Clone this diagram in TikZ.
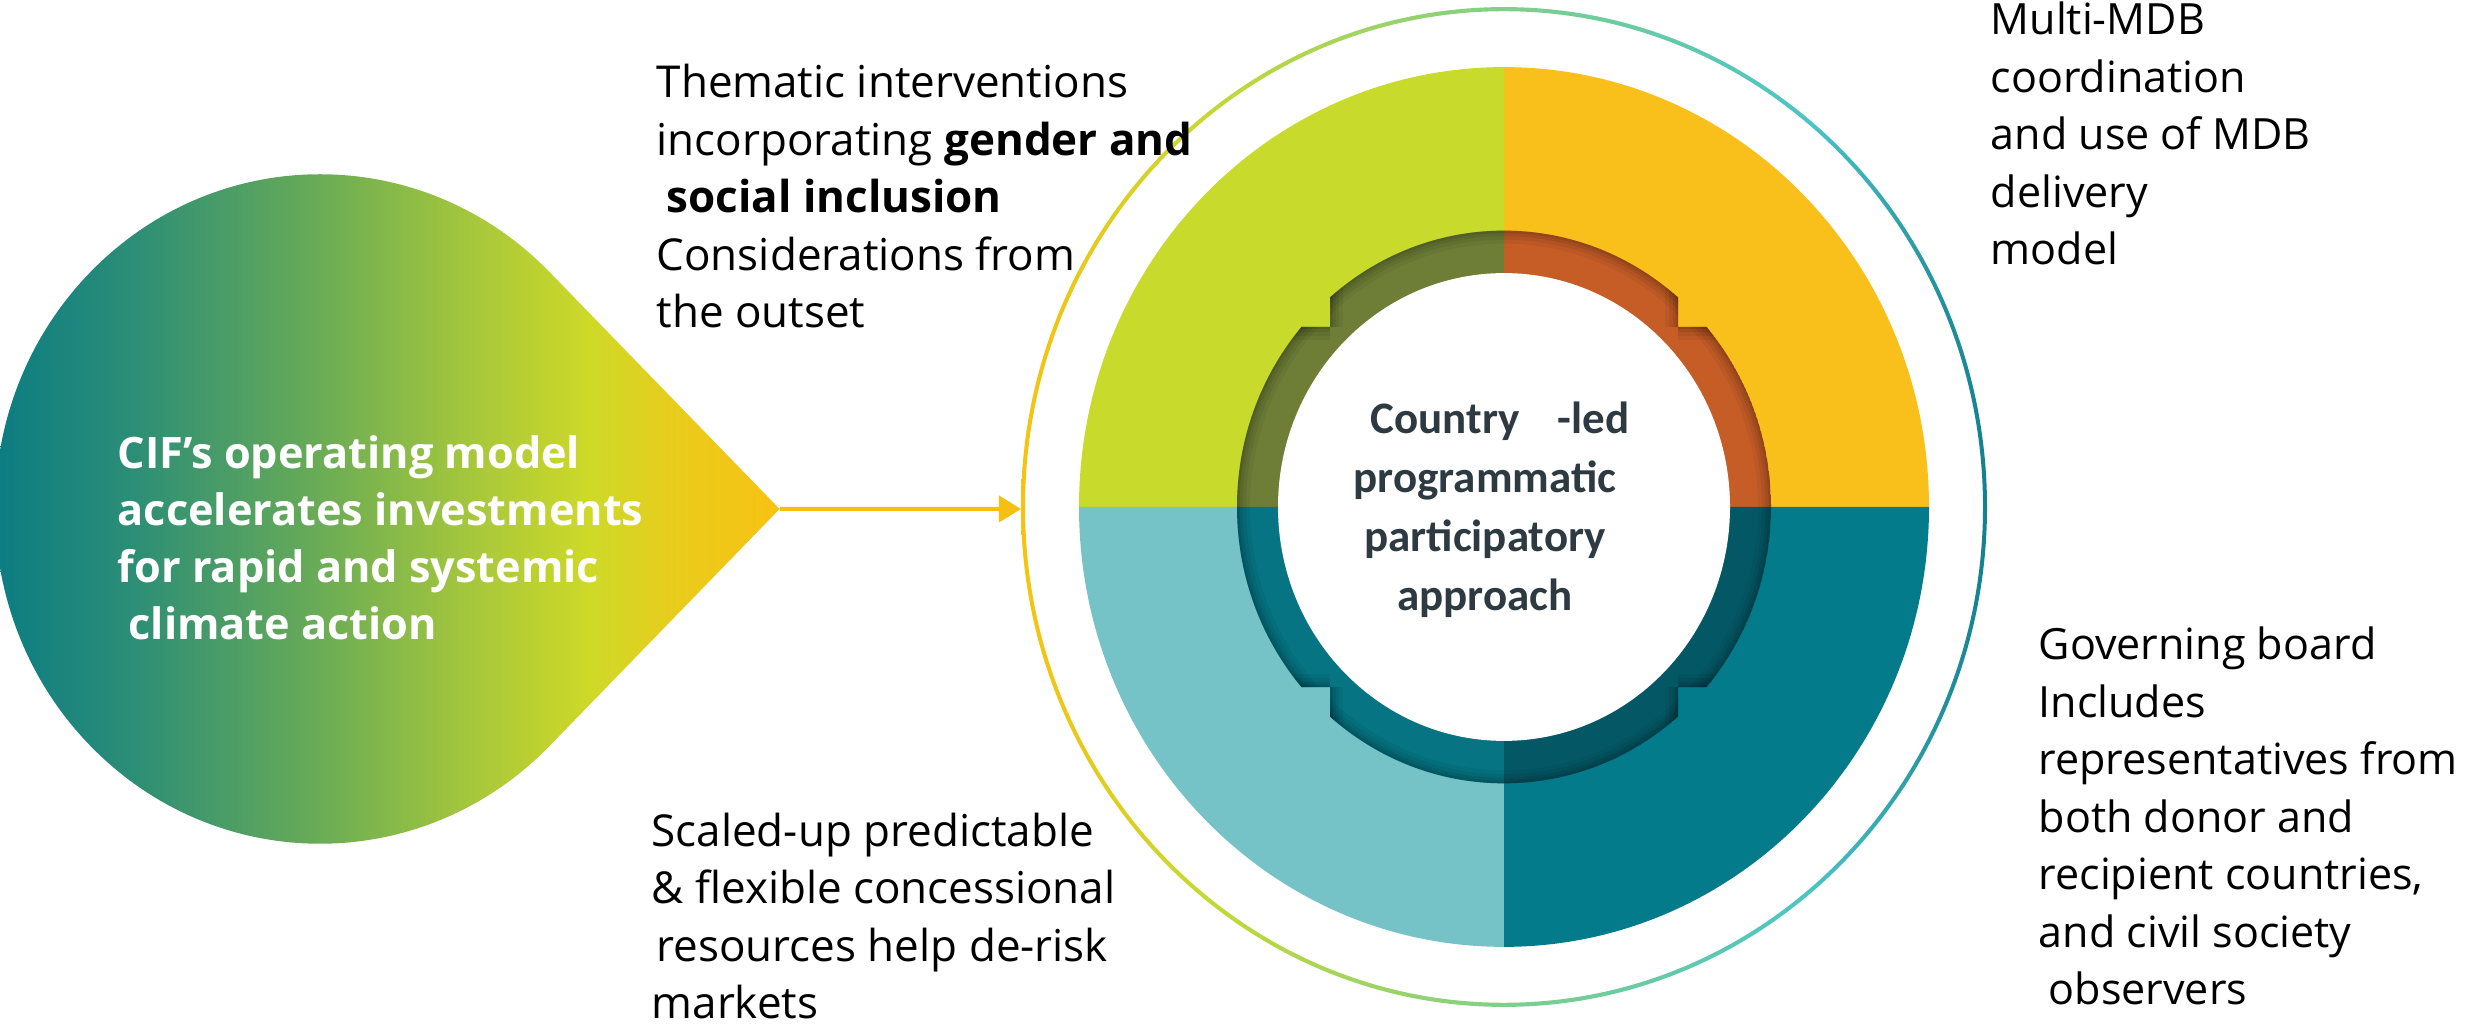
\documentclass[tikz,border=0pt]{standalone}
\usepackage{fontspec}
\setmainfont{Open Sans}
\newfontfamily\centerfont{Carlito}
\usetikzlibrary{arrows.meta}

\definecolor{qlime}{HTML}{C8DA2B}
\definecolor{qyellow}{HTML}{F9C01B}
\definecolor{qlteal}{HTML}{75C2C7}
\definecolor{qteal}{HTML}{037B8A}
\definecolor{rlime}{HTML}{6E7E36}
\definecolor{ryellow}{HTML}{C65D27}
\definecolor{rlteal}{HTML}{067482}
\definecolor{rteal}{HTML}{045866}
\definecolor{ctext}{HTML}{2E3A42}
\definecolor{arrowc}{HTML}{F7C010}
\definecolor{og0}{HTML}{F7C210}
\definecolor{og1}{HTML}{C8D830}
\definecolor{og2}{HTML}{7FD08A}
\definecolor{og3}{HTML}{4BC4C6}
\definecolor{og4}{HTML}{14808F}
\definecolor{dg0}{HTML}{057885}
\definecolor{dg1}{HTML}{2A8D77}
\definecolor{dg2}{HTML}{62A85A}
\definecolor{dg3}{HTML}{A8C83B}
\definecolor{dg4}{HTML}{CFD928}
\definecolor{dg5}{HTML}{EACB1B}
\definecolor{dg6}{HTML}{F8C213}

\pgfdeclarehorizontalshading{ringgrad}{100bp}{color(0bp)=(og0); color(25bp)=(og0); color(34bp)=(og1); color(50bp)=(og2); color(66bp)=(og3); color(75bp)=(og4); color(100bp)=(og4)}
\pgfdeclarehorizontalshading{dropgrad}{100bp}{color(0bp)=(dg0); color(25bp)=(dg0); color(35bp)=(dg1); color(45.5bp)=(dg2); color(56.5bp)=(dg3); color(63.5bp)=(dg4); color(69bp)=(dg5); color(75bp)=(dg6); color(100bp)=(dg6)}

\tikzset{
  sidetext/.style={anchor=base west, align=left, inner sep=0pt, text=black,
    font=\fontsize{12.24pt}{16.36pt}\selectfont},
  lefttext/.style={sidetext, font=\fontsize{12.5pt}{16.36pt}\selectfont},
  droptextstyle/.style={anchor=base west, align=left, inner sep=0pt, text=white,
    font=\fontsize{12.3pt}{16.3pt}\selectfont\bfseries},
  centertextstyle/.style={anchor=base, align=center, inner sep=0pt, text=ctext,
    font=\centerfont\fontsize{12.8pt}{16.8pt}\selectfont\bfseries},
  arrowline/.style={draw=arrowc, line width=0.04cm, -{Triangle[length=0.22cm,width=0.26cm]}},
  ringshadow/.style={black, line cap=butt}
}

\begin{document}
\begin{tikzpicture}[x=0.01cm, y=0.01cm]
\useasboundingbox (0,0) rectangle (2466,1024);

% teardrop
\begin{scope}[shift={(320,515)}, yscale=1.03]
  \shade[shading=dropgrad] (459.6,0) -- (45:325) arc[start angle=45, end angle=315, radius=325] -- cycle;
  \coordinate (droptip) at (459.6,0);
\end{scope}

% central circle
\begin{scope}[shift={(1504,517)}, yscale=1.035]
  \fill[qyellow] (0,0) -- (0,425) arc[start angle=90, end angle=0, radius=425] -- cycle;
  \fill[qlime] (0,0) -- (0,425) arc[start angle=90, end angle=180, radius=425] -- cycle;
  \fill[qlteal] (0,0) -- (-425,0) arc[start angle=180, end angle=270, radius=425] -- cycle;
  \fill[qteal] (0,0) -- (0,-425) arc[start angle=270, end angle=360, radius=425] -- cycle;
  \begin{scope}
    \clip (-174,-300) rectangle (174,300) (-300,-174) rectangle (300,174);
    \clip (0,0) circle[radius=267];
    \fill[ryellow] (0,0) -- (0,267) arc[start angle=90, end angle=0, radius=267] -- cycle;
    \fill[rlime] (0,0) -- (0,267) arc[start angle=90, end angle=180, radius=267] -- cycle;
    \fill[rlteal] (0,0) -- (-267,0) arc[start angle=180, end angle=270, radius=267] -- cycle;
    \fill[rteal] (0,0) -- (0,-267) arc[start angle=270, end angle=360, radius=267] -- cycle;
    \foreach \w/\o in {26/0.05, 18/0.06, 11/0.07, 5/0.09} {
      \draw[ringshadow, opacity=\o, line width=\w*0.01cm] (0,0) circle[radius=267];
      \draw[ringshadow, opacity=\o, line width=\w*0.01cm]
        (-174,174) -- (-174,215) (-174,174) -- (-215,174)
        (174,174) -- (174,215) (174,174) -- (215,174)
        (-174,-174) -- (-174,-215) (-174,-174) -- (-215,-174)
        (174,-174) -- (174,-215) (174,-174) -- (215,-174);
    }
  \end{scope}
  \fill[white] (0,0) circle[radius=226];
  \shade[shading=ringgrad, even odd rule] (0,0) circle[radius=483] (0,0) circle[radius=479];
  \coordinate (ringwest) at (-483,-1.93);
\end{scope}

\draw[arrowline] (droptip) -- (ringwest);

% multi-line nodes: anchor point is the baseline of the last line
\node[droptextstyle] (droptext) at (117,384) {CIF’s operating model\\accelerates investments\\for rapid and systemic\\\hspace*{0.11cm}climate action};

\node[centertextstyle] (centertext) at (1485,413) {\hspace*{0.3cm}Country\hspace{0.38cm}-led\\programmatic\\participatory\\approach};

\node[lefttext] (themtext) at (656,696) {Thematic interventions\\incorporating \textbf{gender and}\\\hspace*{0.1cm}\textbf{social inclusion}\\Considerations from\\the outset};

\node[lefttext] (scaledtext) at (651,5) {Scaled-up predictable\\\& flexible concessional\\\hspace*{0.05cm}resources help de-risk\\markets};

\node[sidetext] (mdbtext) at (1990,759) {Multi-MDB\\coordination\\and use of MDB\\delivery\\model};

\node[sidetext] (govtext) at (2038,19) {Governing board\\Includes\\representatives from\\both donor and\\recipient countries,\\and civil society\\\hspace*{0.1cm}observers};
\end{tikzpicture}
\end{document}
